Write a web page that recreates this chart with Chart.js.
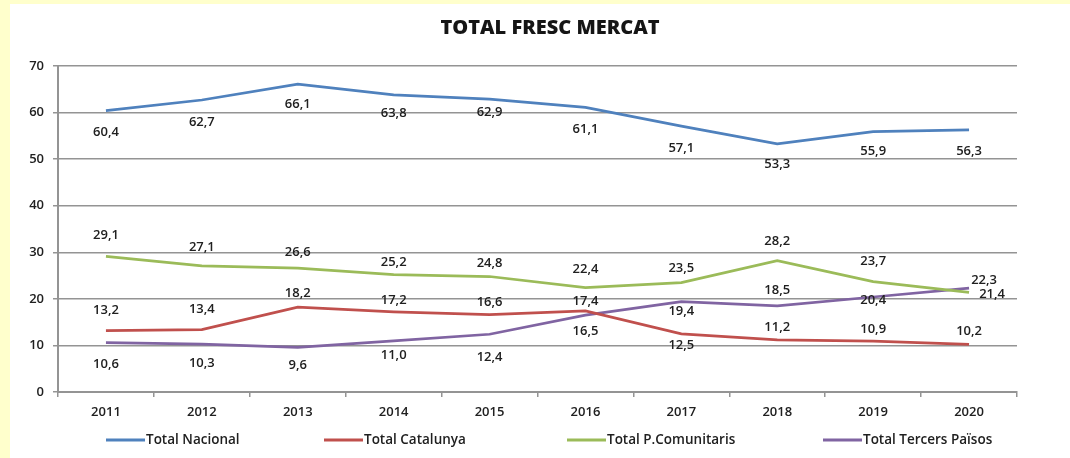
<!DOCTYPE html>
<html>
<head>
<meta charset="utf-8">
<script src="https://cdn.jsdelivr.net/npm/chart.js@4.4.1/dist/chart.umd.min.js"></script>
<style>
  html, body { margin: 0; padding: 0; background: #ffffcc; }
  #wrap { position: relative; width: 1070px; height: 458px; }
</style>
</head>
<body>
<div id="wrap"><canvas id="mercatChart" width="1070" height="458"></canvas></div>
<script>
const years = ['2011', '2012', '2013', '2014', '2015', '2016', '2017', '2018', '2019', '2020'];

const totalNacional = [60.4, 62.7, 66.1, 63.8, 62.9, 61.1, 57.1, 53.3, 55.9, 56.3];
const totalCatalunya = [13.2, 13.4, 18.2, 17.2, 16.6, 17.4, 12.5, 11.2, 10.9, 10.2];
const totalComunitaris = [29.1, 27.1, 26.6, 25.2, 24.8, 22.4, 23.5, 28.2, 23.7, 21.4];
const totalTercers = [10.6, 10.3, 9.6, 11.0, 12.4, 16.5, 19.4, 18.5, 20.4, 22.3];

const seriesNames = ['Total Nacional', 'Total Catalunya', 'Total P.Comunitaris', 'Total Tercers Països'];

// label offsets from each point, in px (vertical, then horizontal for the last ones)
const labelDy = [
    [22, 22, 20, 18, 13, 22, 22, 21, 20, 21],
    [-20, -20, -14, -12, -12, -10, 12, -13, -12, -13],
    [-21, -18, -16, -12, -13, -18, -14, -19, -20, 2],
    [22, 19, 18, 15, 23, 16, 10, -16, 3, -8]
];
const labelDx = [
    [0, 0, 0, 0, 0, 0, 0, 0, 0, 0],
    [0, 0, 0, 0, 0, 0, 0, 0, 0, 0],
    [0, 0, 0, 0, 0, 0, 0, 0, 0, 23],
    [0, 0, 0, 0, 0, 0, 0, 0, 0, 15]
];

const colors = ['#4f81bd', '#c0504d', '#9bbb59', '#8064a2'];
const gridColor = '#949494';
const textColor = '#202020';
const fontFamily = '"Open Sans", "Liberation Sans", sans-serif';

function formatNum(v) {
    return v.toFixed(1).replace('.', ',');
}

const backgroundPlugin = {
    id: 'cardBackground',
    beforeDraw(chart) {
        const ctx = chart.ctx;
        ctx.save();
        ctx.fillStyle = '#ffffcc';
        ctx.fillRect(0, 0, chart.width, chart.height);
        ctx.fillStyle = '#ffffff';
        ctx.fillRect(10, 4, chart.width - 10, chart.height - 4);
        ctx.restore();
    },
    afterDraw(chart) {
        const ctx = chart.ctx;
        ctx.save();
        ctx.font = '800 20px ' + fontFamily;
        ctx.fillStyle = '#151515';
        ctx.textAlign = 'center';
        ctx.textBaseline = 'middle';
        ctx.fillText('TOTAL FRESC MERCAT', 550, 28);
        ctx.restore();
    }
};

const dataLabelPlugin = {
    id: 'dataLabels',
    afterDatasetsDraw(chart) {
        const ctx = chart.ctx;
        ctx.save();
        ctx.font = '600 13px ' + fontFamily;
        ctx.fillStyle = textColor;
        ctx.textBaseline = 'middle';
        ctx.textAlign = 'center';
        chart.data.datasets.forEach((ds, i) => {
            const meta = chart.getDatasetMeta(i);
            meta.data.forEach((pt, j) => {
                ctx.fillText(formatNum(ds.data[j]), pt.x + labelDx[i][j], pt.y + labelDy[i][j]);
            });
        });
        ctx.restore();
    }
};

const legendPlugin = {
    id: 'lineLegend',
    afterDraw(chart) {
        const ctx = chart.ctx;
        const starts = [106, 324, 567, 823];
        const y = 440;
        ctx.save();
        ctx.font = '600 13.5px ' + fontFamily;
        ctx.textBaseline = 'middle';
        ctx.textAlign = 'left';
        chart.data.datasets.forEach((ds, i) => {
            const x = starts[i];
            ctx.strokeStyle = ds.borderColor;
            ctx.lineWidth = 3;
            ctx.beginPath();
            ctx.moveTo(x, y);
            ctx.lineTo(x + 39, y);
            ctx.stroke();
            ctx.fillStyle = textColor;
            ctx.fillText(ds.label, x + 40, y);
        });
        ctx.restore();
    }
};

function makeDataset(label, data, color) {
    return {
        label: label,
        data: data,
        borderColor: color,
        backgroundColor: color,
        borderWidth: 2.75,
        pointRadius: 0,
        tension: 0,
        fill: false
    };
}

const ctx = document.getElementById('mercatChart').getContext('2d');
const mercatChart = new Chart(ctx, {
    type: 'line',
    data: {
        labels: years,
        datasets: [
            makeDataset(seriesNames[0], totalNacional, colors[0]),
            makeDataset(seriesNames[1], totalCatalunya, colors[1]),
            makeDataset(seriesNames[2], totalComunitaris, colors[2]),
            makeDataset(seriesNames[3], totalTercers, colors[3])
        ]
    },
    options: {
        responsive: false,
        animation: false,
        layout: {
            padding: { left: 10, right: 53, top: 66, bottom: 26 }
        },
        plugins: {
            legend: { display: false },
            tooltip: { enabled: false },
            title: { display: false }
        },
        scales: {
            x: {
                offset: true,
                grid: {
                    offset: true,
                    drawOnChartArea: false,
                    drawTicks: true,
                    tickLength: 5,
                    color: gridColor,
                    lineWidth: 1.5
                },
                border: { color: gridColor, width: 2 },
                ticks: {
                    color: textColor,
                    font: { family: fontFamily, size: 13, weight: '600' },
                    padding: 7,
                    maxRotation: 0
                },
                afterFit(scale) { scale.height = 40; }
            },
            y: {
                min: 0,
                max: 70,
                ticks: {
                    stepSize: 10,
                    color: textColor,
                    font: { family: fontFamily, size: 13, weight: '600' },
                    padding: 9
                },
                grid: {
                    color: gridColor,
                    lineWidth: 1.5,
                    tickLength: 5
                },
                border: { color: gridColor, width: 2 },
                afterFit(scale) { scale.width = 48; }
            }
        }
    },
    plugins: [backgroundPlugin, dataLabelPlugin, legendPlugin]
});
</script>
</body>
</html>
